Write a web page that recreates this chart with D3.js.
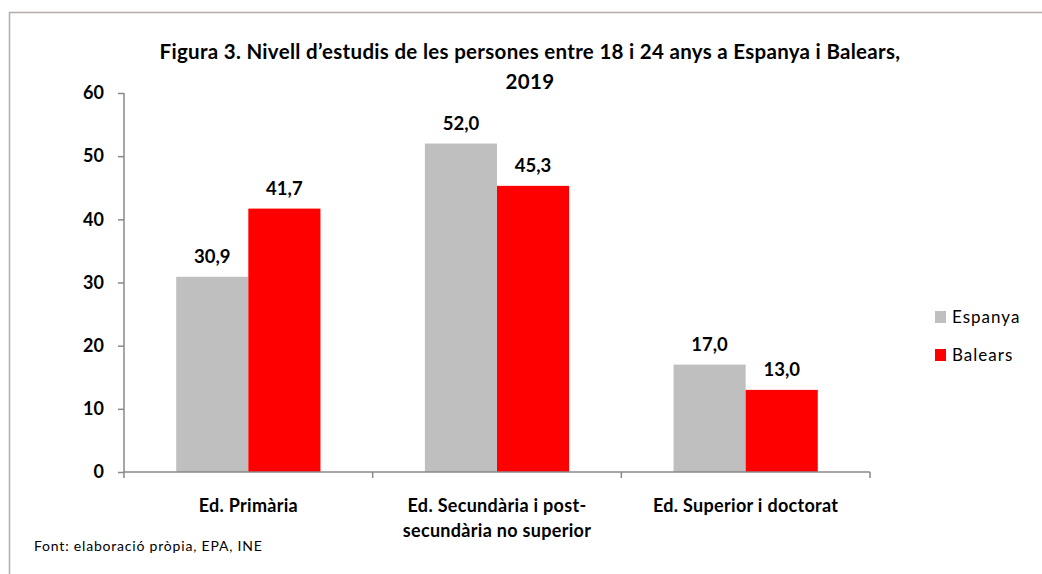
<!DOCTYPE html>
<html>
<head>
<meta charset="utf-8">
<title>Figura 3</title>
<script src="https://d3js.org/d3.v7.min.js"></script>
<style>
  body { margin: 0; background: #fff; }
  text { font-family: Lato, "Open Sans", sans-serif; fill: #000; }
</style>
</head>
<body>
<script>
// data
const categories = ["Ed. Primària", "Ed. Secundària i post-|secundària no superior", "Ed. Superior i doctorat"];
const series = ["Espanya", "Balears"];
const espanya = [30.9, 52.0, 17.0];
const balears = [41.7, 45.3, 13.0];
const colors = ["#bfbfbf", "#ff0000"];
const yTicks = [0, 10, 20, 30, 40, 50, 60];

const W = 1042, H = 574;
const m = {top: 93, left: 124, right: 172, bottom: 102};
const width = W - m.left - m.right;
const height = H - m.top - m.bottom;

const svg = d3.select("body").append("svg")
  .attr("width", W).attr("height", H);

// outer frame (only top and left visible in the reference)
svg.append("rect")
  .attr("x", 9.5).attr("y", 12.5)
  .attr("width", W + 20).attr("height", H + 20)
  .attr("fill", "none").attr("stroke", "#b3aca8").attr("stroke-width", 1.5);

// title
const title = svg.append("text")
  .attr("x", 530).attr("text-anchor", "middle")
  .style("font-weight", "bold").style("font-size", "20.5px").style("letter-spacing", "0.3px");
title.append("tspan").attr("x", 530).attr("y", 59)
  .text("Figura 3. Nivell d’estudis de les persones entre 18 i 24 anys a Espanya  i Balears,");
title.append("tspan").attr("x", 530).attr("y", 89).text("2019");

const g = svg.append("g").attr("transform", `translate(${m.left},${m.top})`);

const x = d3.scaleBand().domain(categories).range([0, width]);
const xs = d3.scaleBand().domain(series).range([x.bandwidth() * 0.21, x.bandwidth() * 0.79]);
const y = d3.scaleLinear().domain([0, 60]).range([height, 0]);

// bars
const rows = categories.map((c, i) => ({cat: c, vals: [espanya[i], balears[i]]}));
const grp = g.selectAll(".grp").data(rows).join("g")
  .attr("transform", d => `translate(${x(d.cat)},0)`);

grp.selectAll("rect").data(d => d.vals.map((v, j) => ({s: series[j], v, j}))).join("rect")
  .attr("x", d => xs(d.s))
  .attr("width", xs.bandwidth())
  .attr("y", d => y(d.v))
  .attr("height", d => y(0) - y(d.v))
  .attr("fill", d => colors[d.j]);

grp.selectAll(".lbl").data(d => d.vals.map((v, j) => ({s: series[j], v, j}))).join("text")
  .attr("class", "lbl")
  .attr("x", d => xs(d.s) + xs.bandwidth() / 2)
  .attr("y", d => y(d.v) - 14)
  .attr("text-anchor", "middle")
  .style("font-weight", "bold").style("font-size", "18.5px")
  .text(d => d.v.toFixed(1).replace(".", ","));

// y axis
const yAxis = g.append("g")
  .call(d3.axisLeft(y).tickValues(yTicks).tickSize(6).tickPadding(14).tickFormat(d3.format("d")));
yAxis.select(".domain").attr("stroke", "#898989").attr("stroke-width", 1.5).attr("d", `M0,0V${height}`);
yAxis.selectAll(".tick line").attr("stroke", "#898989").attr("stroke-width", 1.5);
yAxis.selectAll(".tick text")
  .style("font-family", "Lato, sans-serif").style("font-weight", "bold").style("font-size", "18px").attr("fill", "#000");

// x axis with ticks at band edges
const xa = g.append("g").attr("transform", `translate(0,${height})`);
xa.append("line").attr("x1", 0).attr("x2", width).attr("stroke", "#898989").attr("stroke-width", 1.5);
const edges = categories.map(c => x(c)).concat([width]);
xa.selectAll(".xt").data(edges).join("line")
  .attr("x1", d => d).attr("x2", d => d).attr("y1", 0).attr("y2", 6)
  .attr("stroke", "#898989").attr("stroke-width", 1.5);

xa.selectAll(".cat").data(categories).join("text")
  .attr("text-anchor", "middle")
  .style("font-weight", "bold").style("font-size", "18px").style("letter-spacing", "0.3px")
  .each(function(c) {
    const lines = c.split("|");
    const t = d3.select(this);
    lines.forEach((ln, k) => {
      t.append("tspan").attr("x", x(c) + x.bandwidth() / 2).attr("y", 40 + k * 25).text(ln);
    });
  });

// legend
const leg = svg.append("g").attr("transform", "translate(935,311)");
series.forEach((s, i) => {
  leg.append("rect").attr("x", 0).attr("y", i * 38).attr("width", 11).attr("height", 12).attr("fill", colors[i]);
  leg.append("text").attr("x", 17).attr("y", i * 38 + 12)
    .style("font-size", "17px").style("letter-spacing", "1px").text(s);
});

// source
svg.append("text").attr("x", 34).attr("y", 551)
  .style("font-size", "14px").style("letter-spacing", "0.8px").text("Font: elaboració pròpia, EPA, INE");
</script>
</body>
</html>
